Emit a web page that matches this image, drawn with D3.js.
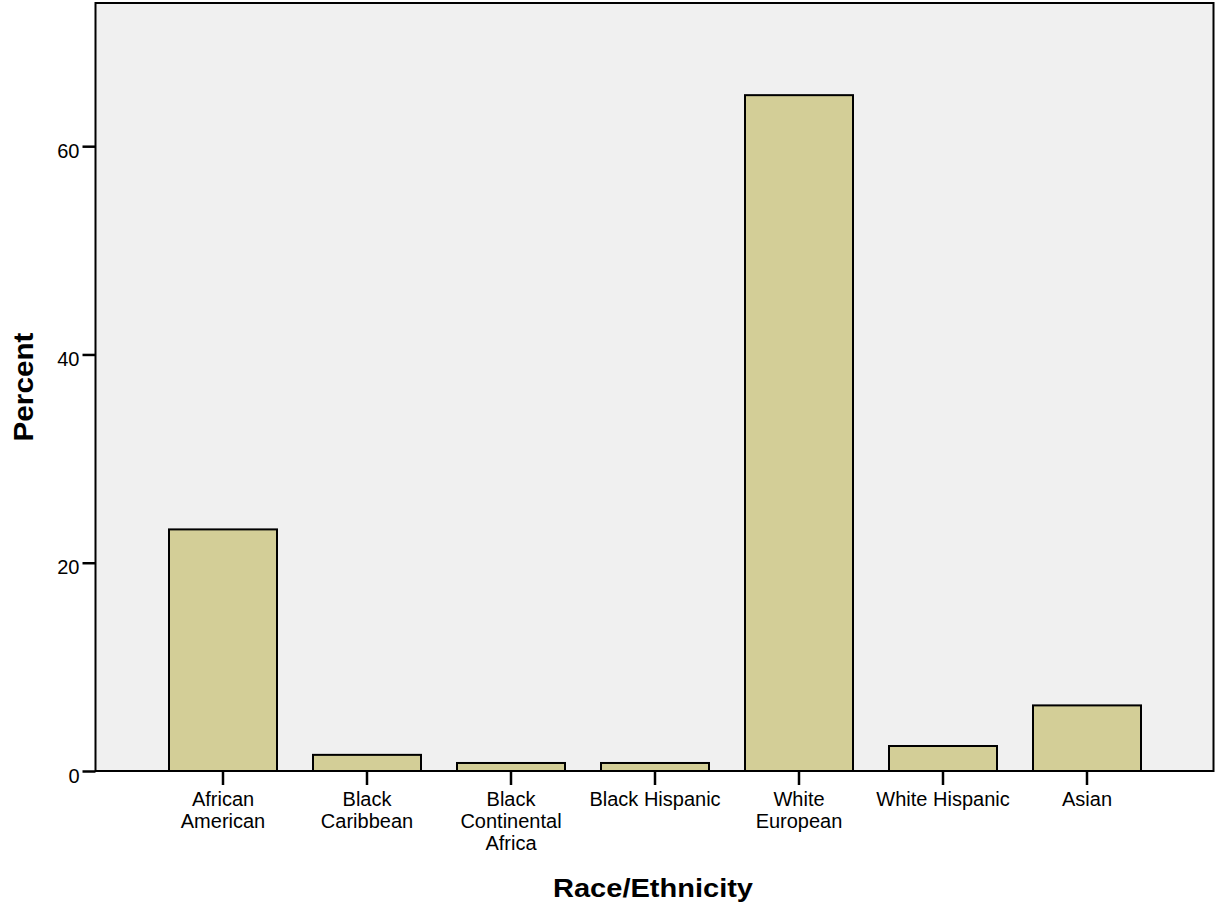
<!DOCTYPE html>
<html><head><meta charset="utf-8">
<script src="https://cdn.jsdelivr.net/npm/d3@7"></script>
<style>body{margin:0;background:#fff}svg{display:block}text{font-family:"Liberation Sans",Arial,sans-serif;fill:#000}</style>
</head><body>
<svg id="c" width="1216" height="913"></svg>
<script>
const categories = ["African American","Black Caribbean","Black Continental Africa","Black Hispanic","White European","White Hispanic","Asian"];
const categoryLines = [["African","American"],["Black","Caribbean"],["Black","Continental","Africa"],["Black Hispanic"],["White","European"],["White Hispanic"],["Asian"]];
const percents = [23.2, 1.55, 0.77, 0.77, 64.9, 2.4, 6.3];
const yTicks = [0, 20, 40, 60];

const svg = d3.select("#c");
const L = 95.5, R = 1213.5, T = 3, B = 771;
const FF = '"Liberation Sans",Arial,sans-serif';
const x = d3.scaleBand().domain(categories).range([151, 1159]).paddingInner(0.25).paddingOuter(0.125);
const y = d3.scaleLinear().domain([0, 73.75]).range([B, T]);

svg.append("rect").attr("x", L).attr("y", T).attr("width", R - L).attr("height", B - T).attr("fill", "#f0f0f0");

svg.selectAll("rect.bar").data(percents).join("rect").attr("class","bar")
  .attr("x", (d,i) => x(categories[i]))
  .attr("y", d => y(d))
  .attr("width", x.bandwidth())
  .attr("height", d => B - y(d))
  .attr("fill", "#d3ce97").attr("stroke", "#000").attr("stroke-width", 2);

svg.append("rect").attr("x", L).attr("y", T).attr("width", R - L).attr("height", B - T)
  .attr("fill", "none").attr("stroke", "#000").attr("stroke-width", 2);

const ya = svg.append("g").attr("transform", `translate(${L},0)`)
  .call(d3.axisLeft(y).tickValues(yTicks).tickSize(13).tickFormat(d3.format("d")));
ya.select(".domain").remove();
ya.selectAll(".tick line").attr("stroke", "#000").attr("stroke-width", 2.5);
ya.selectAll(".tick text").attr("font-size", 20).attr("dy", "0.55em").attr("font-family", FF);

const xa = svg.append("g").attr("transform", `translate(0,${B})`)
  .call(d3.axisBottom(x).tickSize(14).tickFormat(""));
xa.select(".domain").remove();
xa.selectAll(".tick line").attr("stroke", "#000").attr("stroke-width", 2.5);
xa.selectAll(".tick").each(function(d, i) {
  const t = d3.select(this).append("text").attr("font-size", 20).attr("text-anchor", "middle")
    .attr("font-family", FF).attr("fill", "#000");
  categoryLines[i].forEach((ln, k) => t.append("tspan").attr("x", 0).attr("y", 35 + k * 22).text(ln));
});

svg.append("text").attr("x", 653).attr("y", 897).attr("text-anchor", "middle")
  .attr("font-size", 25).attr("font-weight", "bold")
  .attr("textLength", 200).attr("lengthAdjust", "spacingAndGlyphs").text("Race/Ethnicity");
svg.append("text").attr("transform", "translate(33,387) rotate(-90)").attr("text-anchor", "middle")
  .attr("font-size", 27).attr("font-weight", "bold")
  .attr("textLength", 109).attr("lengthAdjust", "spacingAndGlyphs").text("Percent");
</script>
</body></html>
